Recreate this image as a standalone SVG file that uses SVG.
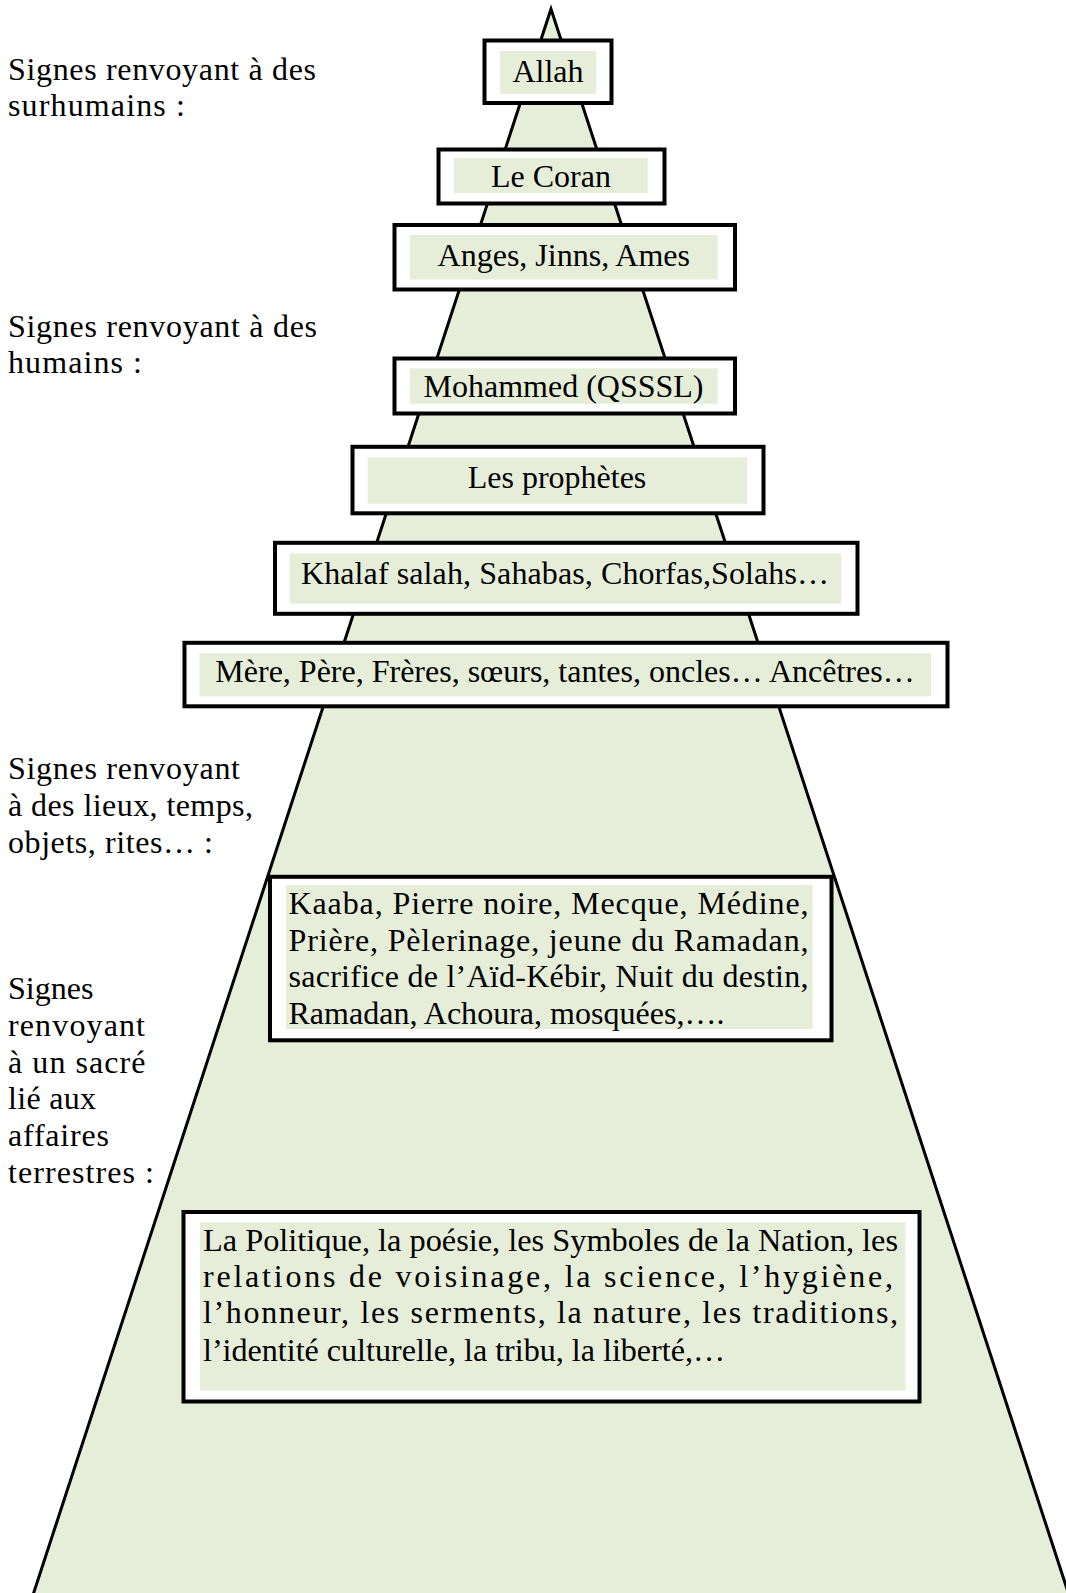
<svg xmlns="http://www.w3.org/2000/svg" width="1066" height="1593" viewBox="0 0 1066 1593">
<style>
  .tri { fill: #E6EEDA; stroke: #000; stroke-width: 3; stroke-linejoin: miter; }
  .box { fill: #fff; stroke: #000; stroke-width: 4; }
  .pad { fill: #E6EEDA; stroke: none; }
  .t { font-family: "Liberation Serif", "Times New Roman", serif; font-size: 32px; fill: #000; }
  .c { text-anchor: middle; }
  .lbl { font-family: "Liberation Serif", "Times New Roman", serif; font-size: 32px; fill: #000; }
</style>
<rect x="0" y="0" width="1066" height="1593" fill="#fff"/>
<g id="pyramid">
  <polygon class="tri" points="551,9 33,1595 1069,1595"/>
</g>
<g id="connectors"></g>
<g id="labels">
  <text class="lbl" x="8" y="80" textLength="308" lengthAdjust="spacing">Signes renvoyant à des</text>
  <text class="lbl" x="8" y="116" textLength="177" lengthAdjust="spacing">surhumains :</text>
  <text class="lbl" x="8" y="337" textLength="309" lengthAdjust="spacing">Signes renvoyant à des</text>
  <text class="lbl" x="8" y="372.5" textLength="134" lengthAdjust="spacing">humains :</text>
  <text class="lbl" x="8" y="778.5" textLength="232" lengthAdjust="spacing">Signes renvoyant</text>
  <text class="lbl" x="8" y="816" textLength="245" lengthAdjust="spacing">à des lieux, temps,</text>
  <text class="lbl" x="8" y="852.5" textLength="205" lengthAdjust="spacing">objets, rites… :</text>
  <text class="lbl" x="8" y="998.5">Signes</text>
  <text class="lbl" x="8" y="1036" textLength="137" lengthAdjust="spacing">renvoyant</text>
  <text class="lbl" x="8" y="1072.5" textLength="137.5" lengthAdjust="spacing">à un sacré</text>
  <text class="lbl" x="8" y="1109" textLength="88" lengthAdjust="spacing">lié aux</text>
  <text class="lbl" x="8" y="1146" textLength="101" lengthAdjust="spacing">affaires</text>
  <text class="lbl" x="8" y="1182.5" textLength="146" lengthAdjust="spacing">terrestres :</text>
</g>
<g id="node-allah">
  <rect class="box" x="484.5" y="40.5" width="127" height="62.5"/>
  <rect class="pad" x="500" y="51" width="96" height="43"/>
  <text class="t c" x="548" y="82">Allah</text>
</g>
<g id="node-coran">
  <rect class="box" x="438.5" y="149.5" width="226" height="54"/>
  <rect class="pad" x="454" y="158" width="193.7" height="35"/>
  <text class="t c" x="551" y="187">Le Coran</text>
</g>
<g id="node-anges">
  <rect class="box" x="394.5" y="225" width="340.5" height="64.5"/>
  <rect class="pad" x="410" y="235" width="307.7" height="44.5"/>
  <text class="t c" x="563.8" y="265.5">Anges, Jinns, Ames</text>
</g>
<g id="node-mohammed">
  <rect class="box" x="394.5" y="358.5" width="340.5" height="55"/>
  <rect class="pad" x="410" y="368.3" width="307.7" height="35.5"/>
  <text class="t c" x="563.5" y="396.5">Mohammed (QSSSL)</text>
</g>
<g id="node-prophetes">
  <rect class="box" x="352.5" y="446.8" width="411" height="66.5"/>
  <rect class="pad" x="367.7" y="457.3" width="379.5" height="46.5"/>
  <text class="t c" x="557" y="487.5">Les prophètes</text>
</g>
<g id="node-khalaf">
  <rect class="box" x="275" y="542.8" width="582.5" height="71"/>
  <rect class="pad" x="289.7" y="553.3" width="551.5" height="50.5"/>
  <text class="t c" x="565" y="584" textLength="528" lengthAdjust="spacing">Khalaf salah, Sahabas, Chorfas,Solahs…</text>
</g>
<g id="node-famille">
  <rect class="box" x="184.5" y="642.8" width="763" height="63.5"/>
  <rect class="pad" x="199.5" y="653.3" width="731.5" height="43"/>
  <text class="t c" x="565" y="682">Mère, Père, Frères, sœurs, tantes, oncles… Ancêtres…</text>
</g>
<g id="node-lieux">
  <rect class="box" x="270" y="876.8" width="561.5" height="163.5"/>
  <rect class="pad" x="286" y="885" width="526.6" height="144"/>
  <text class="t" x="288.5" y="914" textLength="520" lengthAdjust="spacing">Kaaba, Pierre noire, Mecque, Médine,</text>
  <text class="t" x="288.5" y="950.5" textLength="520" lengthAdjust="spacing">Prière, Pèlerinage, jeune du Ramadan,</text>
  <text class="t" x="288.5" y="987" textLength="520" lengthAdjust="spacing">sacrifice de l’Aïd-Kébir, Nuit du destin,</text>
  <text class="t" x="288.5" y="1023.5" textLength="436" lengthAdjust="spacing">Ramadan, Achoura, mosquées,….</text>
</g>
<g id="node-terrestres">
  <rect class="box" x="183.5" y="1212" width="736" height="189.5"/>
  <rect class="pad" x="200" y="1222.3" width="705.4" height="168.4"/>
  <text class="t" x="203" y="1250.7" textLength="695" lengthAdjust="spacingAndGlyphs">La Politique, la poésie, les Symboles de la Nation, les</text>
  <text class="t" x="203" y="1286.7" textLength="690" lengthAdjust="spacing">relations de voisinage, la science, l’hygiène,</text>
  <text class="t" x="203" y="1323.3" textLength="695" lengthAdjust="spacing">l’honneur, les serments, la nature, les traditions,</text>
  <text class="t" x="203" y="1360.7" textLength="522" lengthAdjust="spacingAndGlyphs">l’identité culturelle, la tribu, la liberté,…</text>
</g>
</svg>
